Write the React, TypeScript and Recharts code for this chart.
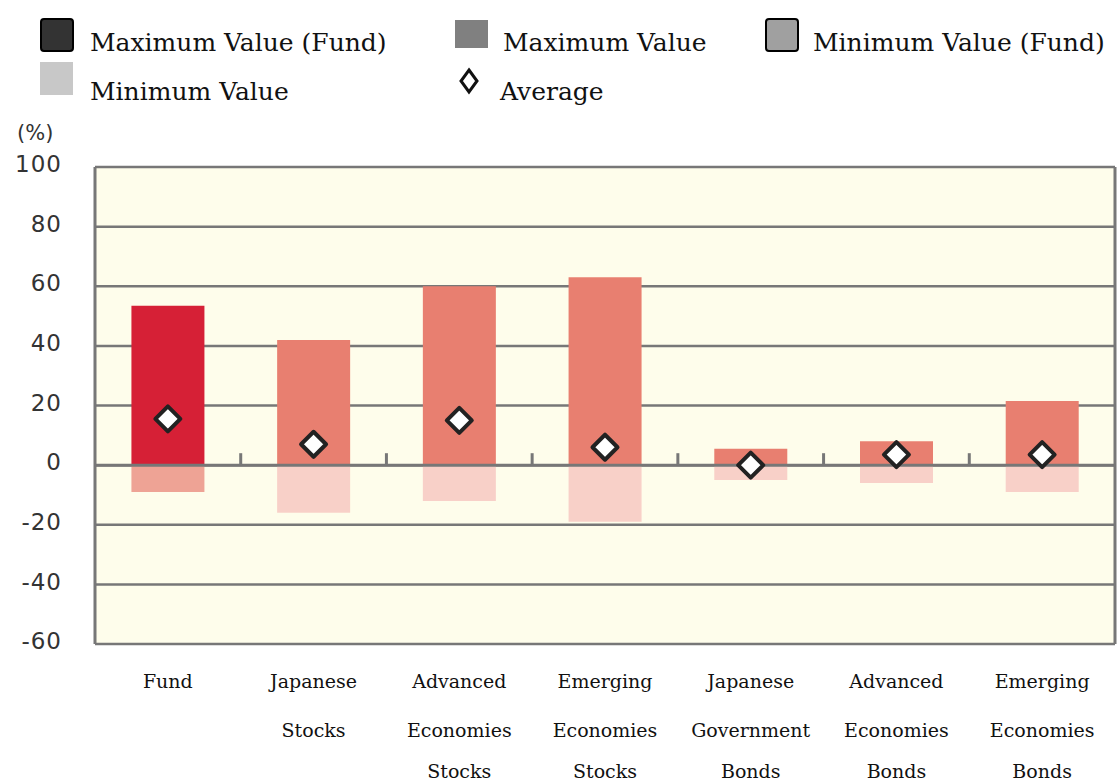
import React from "react";
import {
  Bar,
  CartesianGrid,
  Cell,
  ComposedChart,
  Line,
  ReferenceLine,
  XAxis,
  YAxis,
} from "recharts";

const categories = [
  "Fund",
  "Japanese Stocks",
  "Advanced Economies Stocks",
  "Emerging Economies Stocks",
  "Japanese Government Bonds",
  "Advanced Economies Bonds",
  "Emerging Economies Bonds",
];
const maxValues = [53.5, 42, 60, 63, 5.5, 8, 21.5];
const minValues = [-9, -16, -12, -19, -5, -6, -9];
const avgValues = [15.5, 7, 15, 6, 0, 3.5, 3.5];
const yTicks = [-60, -40, -20, 0, 20, 40, 60, 80, 100];

const data = categories.map((name, i) => ({
  name,
  max: maxValues[i],
  min: minValues[i],
  avg: avgValues[i],
}));

const GRID = "#777777";
const SERIF = "'DejaVu Serif', serif";
const SANS = "'DejaVu Sans', Verdana, sans-serif";

const CatTick = ({ x, y, payload }: any) => {
  const lines = String(payload.value).split(" ");
  const offsets = [35, 84, 125];
  return (
    <g>
      {lines.map((l, i) => (
        <text
          key={i}
          x={x}
          y={y + offsets[i]}
          textAnchor="middle"
          dominantBaseline="central"
          fontFamily={SERIF}
          fontSize={19}
          fill="#111"
        >
          {l}
        </text>
      ))}
    </g>
  );
};

const Diamond = ({ cx, cy }: any) => {
  const r = 12.5;
  return (
    <polygon
      points={`${cx},${cy - r} ${cx + r},${cy} ${cx},${cy + r} ${cx - r},${cy}`}
      fill="#ffffff"
      stroke="#222"
      strokeWidth={4}
      strokeLinejoin="round"
    />
  );
};

const legendText: React.CSSProperties = {
  position: "absolute",
  fontFamily: SERIF,
  fontSize: 25,
  color: "#111",
  whiteSpace: "nowrap",
  lineHeight: "30px",
};

export default function App() {
  return (
    <div style={{ position: "absolute", left: 0, top: 0, width: 1117, height: 781, background: "#fff" }}>
      {/* legend */}
      <div style={{ position: "absolute", left: 40, top: 18, width: 30, height: 30, background: "#333", border: "2px solid #000", borderRadius: 4 }} />
      <div style={{ ...legendText, left: 90, top: 28 }}>Maximum Value (Fund)</div>
      <div style={{ position: "absolute", left: 455, top: 20, width: 33, height: 28, background: "#808080" }} />
      <div style={{ ...legendText, left: 503, top: 28 }}>Maximum Value</div>
      <div style={{ position: "absolute", left: 765, top: 18, width: 30, height: 30, background: "#a0a0a0", border: "2px solid #000", borderRadius: 4 }} />
      <div style={{ ...legendText, left: 813, top: 28 }}>Minimum Value (Fund)</div>
      <div style={{ position: "absolute", left: 40, top: 62, width: 33, height: 33, background: "#c8c8c8" }} />
      <div style={{ ...legendText, left: 90, top: 77 }}>Minimum Value</div>
      <svg style={{ position: "absolute", left: 456, top: 67 }} width={26} height={28}>
        <polygon points="13,3 21,14 13,25 5,14" fill="#fff" stroke="#111" strokeWidth={3} />
      </svg>
      <div style={{ ...legendText, left: 500, top: 77 }}>Average</div>
      <div style={{ position: "absolute", left: 17, top: 121, fontFamily: SANS, fontSize: 21, color: "#333" }}>(%)</div>

      <ComposedChart
        width={1117}
        height={781}
        data={data}
        stackOffset="sign"
        barCategoryGap="25%"
        margin={{ top: 167, right: 2, bottom: 0, left: 0 }}
      >
        <CartesianGrid
          vertical={false}
          stroke={GRID}
          strokeWidth={2.5}
          fill="#fefdeb"
          fillOpacity={1}
        />
        <XAxis
          dataKey="name"
          axisLine={false}
          tickLine={false}
          tickSize={0}
          height={137}
          interval={0}
          tick={<CatTick />}
        />
        <YAxis
          domain={[-60, 100]}
          ticks={yTicks}
          interval={0}
          width={95}
          axisLine={{ stroke: GRID, strokeWidth: 3 }}
          tickLine={false}
          tickSize={0}
          tickMargin={33}
          tick={{ fontFamily: SANS, fontSize: 23, fill: "#333", letterSpacing: 1, dy: -3 }}
        />
        <Bar dataKey="max" stackId="a" isAnimationActive={false}>
          {data.map((d, i) => (
            <Cell key={i} fill={i === 0 ? "#d62036" : "#e87f70"} />
          ))}
        </Bar>
        <Bar dataKey="min" stackId="a" isAnimationActive={false}>
          {data.map((d, i) => (
            <Cell key={i} fill={i === 0 ? "#eea395" : "#f8d0c8"} />
          ))}
        </Bar>
        <ReferenceLine y={0} stroke={GRID} strokeWidth={3} />
        {categories.slice(1).map((c) => (
          <ReferenceLine
            key={c}
            position="start"
            segment={[
              { x: c, y: 0 },
              { x: c, y: 4 },
            ]}
            stroke={GRID}
            strokeWidth={3}
          />
        ))}
        <ReferenceLine x={categories[categories.length - 1]} position="end" stroke={GRID} strokeWidth={3} />
        <Line
          dataKey="avg"
          stroke="none"
          isAnimationActive={false}
          activeDot={false}
          dot={(p: any) => <Diamond key={p.index} cx={p.cx} cy={p.cy} />}
        />
      </ComposedChart>
    </div>
  );
}
